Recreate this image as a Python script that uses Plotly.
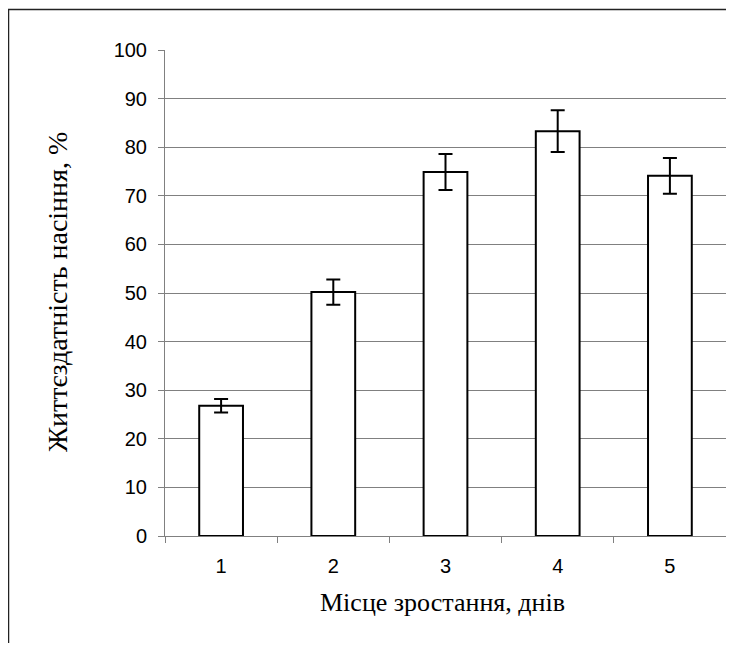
import plotly.graph_objects as go

categories = ["1", "2", "3", "4", "5"]
values = [26.8, 50.2, 74.9, 83.3, 74.1]
errors = [1.4, 2.6, 3.7, 4.3, 3.7]
y_ticks = [0, 10, 20, 30, 40, 50, 60, 70, 80, 90, 100]

# page has an 8px body margin; figure drawn inside it
W, H = 718, 635
L, R, T, B = 157, 0, 42, 107
pw, ph = W - L - R, H - T - B

serif = "Times New Roman, Liberation Serif, DejaVu Serif, serif"

fig = go.Figure()
fig.add_trace(go.Bar(
    x=categories, y=values, width=0.39,
    marker=dict(color="white", line=dict(color="black", width=2)),
    error_y=dict(type="data", array=errors, visible=True, color="black", thickness=2, width=7),
    showlegend=False,
))

fig.update_layout(
    width=W, height=H,
    margin=dict(l=L, r=R, t=T, b=B, autoexpand=False),
    paper_bgcolor="white", plot_bgcolor="white",
    font=dict(family="Liberation Sans, Arial, sans-serif", size=20, color="black"),
    xaxis=dict(
        type="category", tickson="boundaries", ticks="outside", ticklen=6,
        tickcolor="#808080", showline=True, linecolor="#808080", linewidth=1,
        showgrid=False, range=[-0.5, 4.5], ticklabelstandoff=12,
    ),
    yaxis=dict(
        range=[0, 100], tickvals=y_ticks, ticks="outside", ticklen=6, tickcolor="#808080",
        showline=True, linecolor="#808080", linewidth=1,
        showgrid=True, gridcolor="#808080", gridwidth=1, zeroline=False,
        ticklabelstandoff=7,
    ),
    annotations=[
        dict(text="Місце зростання, днів", xref="paper", yref="paper",
             x=(434.5 - L) / pw, y=(H - B - 594) / ph, xanchor="center", yanchor="middle",
             showarrow=False, font=dict(family=serif, size=26, color="black")),
        dict(text="Життєздатність насіння, %", xref="paper", yref="paper",
             x=(49 - L) / pw, y=(H - B - 284) / ph, xanchor="center", yanchor="middle",
             textangle=-90, showarrow=False, font=dict(family=serif, size=28, color="black")),
    ],
    shapes=[dict(
        type="rect", xref="paper", yref="paper",
        x0=(0.5 - L) / pw, x1=(W + 30 - L) / pw,
        y0=-(B + 30) / ph, y1=(H - 1.5 - B) / ph,
        line=dict(color="#222222", width=1.5), fillcolor="rgba(0,0,0,0)", layer="below",
    )],
)

fig.write_html("out.html")
